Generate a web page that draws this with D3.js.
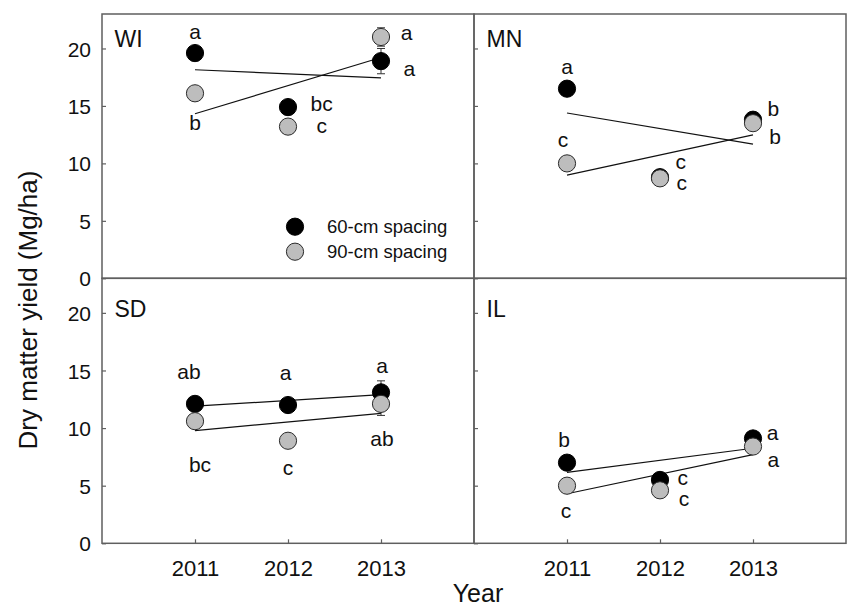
<!DOCTYPE html>
<html>
<head>
<meta charset="utf-8">
<script src="https://cdn.jsdelivr.net/npm/d3@7"></script>
<style>
  html, body { margin: 0; padding: 0; background: #fff; }
  svg { display: block; font-family: "Liberation Sans", Arial, Helvetica, sans-serif; }
</style>
</head>
<body>
<svg id="chart" width="847" height="608"></svg>
<script>
// ---------- data ----------
const years = [2011, 2012, 2013];
const yTicks = [0, 5, 10, 15, 20];
const xTicks = [2011, 2012, 2013];
const panelNames = ["WI", "MN", "SD", "IL"];
const seriesNames = ["60-cm spacing", "90-cm spacing"];

const wi60 = [19.6, 14.9, 18.9];
const wi90 = [16.1, 13.2, 21.0];
const mn60 = [16.5, 8.8, 13.8];
const mn90 = [10.0, 8.7, 13.5];
const sd60 = [12.1, 12.0, 13.1];
const sd90 = [10.6, 8.9, 12.1];
const il60 = [7.0, 5.5, 9.1];
const il90 = [5.0, 4.6, 8.4];

const wi60err = [0.4, 0.4, 1.1];
const wi90err = [0.4, 0.4, 0.8];
const mn60err = [0.4, 0.4, 0.4];
const mn90err = [0.4, 0.4, 0.4];
const sd60err = [0.4, 0.4, 1.0];
const sd90err = [0.4, 0.5, 1.0];
const il60err = [0.4, 0.4, 0.4];
const il90err = [0.4, 0.4, 0.4];

const wi60letters = ["a", "bc", "a"];
const wi90letters = ["b", "c", "a"];
const mn60letters = ["a", "c", "b"];
const mn90letters = ["c", "c", "b"];
const sd60letters = ["ab", "a", "a"];
const sd90letters = ["bc", "c", "ab"];
const il60letters = ["b", "c", "a"];
const il90letters = ["c", "c", "a"];

// ---------- layout (pixel offsets of letters from their points) ----------
const letterOffsets = {
  WI: [[[0, -14.3], [33.7, 4], [28.3, 14.4]], [[0, 36.9], [33.7, 6.6], [25.7, 2.8]]],
  MN: [[[0, -14.9], [20.7, -8.4], [20.3, -3.9]], [[-4, -16.2], [21.7, 11.5], [22, 21]]],
  SD: [[[-6, -24.9], [-2.3, -24.6], [1, -19.6]], [[5, 51.3], [0, 34.7], [1, 41.9]]],
  IL: [[[-3, -15.9], [22.7, 4.8], [19.7, 1.3]], [[-1, 32.1], [24, 15.2], [20.3, 20.7]]]
};

const panelData = {
  WI: { s: [wi60, wi90], e: [wi60err, wi90err], l: [wi60letters, wi90letters] },
  MN: { s: [mn60, mn90], e: [mn60err, mn90err], l: [mn60letters, mn90letters] },
  SD: { s: [sd60, sd90], e: [sd60err, sd90err], l: [sd60letters, sd90letters] },
  IL: { s: [il60, il90], e: [il60err, il90err], l: [il60letters, il90letters] }
};

const fills = ["#000000", "#bdbdbd"];
const strokes = ["#000000", "#2a2a2a"];

const svg = d3.select("#chart");
const frameColor = "#5f5f5f";

const cols = [[102, 474], [474, 846]];
const rows = [[14, 278.3], [278.3, 543.3]];

function linReg(xs, ys) {
  const mx = d3.mean(xs), my = d3.mean(ys);
  let num = 0, den = 0;
  xs.forEach((x, i) => { num += (x - mx) * (ys[i] - my); den += (x - mx) * (x - mx); });
  const b = num / den;
  return x => my + b * (x - mx);
}

panelNames.forEach((name, pi) => {
  const c = pi % 2, r = Math.floor(pi / 2);
  const x = d3.scaleLinear().domain([2010, 2014]).range(cols[c]);
  const y = d3.scaleLinear().domain([0, 23]).range([rows[r][1], rows[r][0]]);
  const g = svg.append("g");
  const pd = panelData[name];

  // frame
  g.append("rect")
    .attr("x", cols[c][0]).attr("y", rows[r][0])
    .attr("width", cols[c][1] - cols[c][0]).attr("height", rows[r][1] - rows[r][0])
    .attr("fill", "none").attr("stroke", frameColor).attr("stroke-width", 1.5);

  // y axis (inward ticks)
  const yAxis = d3.axisLeft(y).tickValues(yTicks).tickSize(-4).tickPadding(11)
    .tickFormat(c === 0 ? d3.format("d") : () => "");
  const ya = g.append("g").attr("transform", `translate(${cols[c][0]},0)`).call(yAxis);
  ya.select(".domain").remove();
  ya.selectAll(".tick line").attr("stroke", frameColor).attr("stroke-width", 1.2);
  ya.selectAll(".tick text").attr("font-size", 21).attr("fill", "#111").attr("dy", "0.36em")
    .attr("font-family", "Liberation Sans, Arial, sans-serif");

  // x axis on bottom panels
  if (r === 1) {
    const xAxis = d3.axisBottom(x).tickValues(xTicks).tickSize(-4).tickPadding(17)
      .tickFormat(d3.format("d"));
    const xa = g.append("g").attr("transform", `translate(0,${rows[r][1]})`).call(xAxis);
    xa.select(".domain").remove();
    xa.selectAll(".tick line").attr("stroke", frameColor).attr("stroke-width", 1.2);
    xa.selectAll(".tick text").attr("font-size", 22).attr("fill", "#111")
      .attr("font-family", "Liberation Sans, Arial, sans-serif");
  }

  // regression lines
  pd.s.forEach((vals) => {
    const f = linReg(years, vals);
    g.append("line")
      .attr("x1", x(years[0])).attr("y1", y(f(years[0])))
      .attr("x2", x(years[years.length - 1])).attr("y2", y(f(years[years.length - 1])))
      .attr("stroke", "#111").attr("stroke-width", 1.2);
  });

  // error bars
  pd.s.forEach((vals, si) => {
    vals.forEach((v, i) => {
      const e = pd.e[si][i];
      const xx = x(years[i]);
      g.append("line").attr("x1", xx).attr("x2", xx).attr("y1", y(v - e)).attr("y2", y(v + e))
        .attr("stroke", "#333").attr("stroke-width", 1);
      [v - e, v + e].forEach(t => {
        g.append("line").attr("x1", xx - 4).attr("x2", xx + 4).attr("y1", y(t)).attr("y2", y(t))
          .attr("stroke", "#333").attr("stroke-width", 1);
      });
    });
  });

  // points (60 first, 90 on top)
  pd.s.forEach((vals, si) => {
    g.selectAll(null).data(vals).enter().append("circle")
      .attr("cx", (d, i) => x(years[i])).attr("cy", d => y(d)).attr("r", 8.6)
      .attr("fill", fills[si]).attr("stroke", strokes[si]).attr("stroke-width", 1);
  });

  // significance letters
  pd.s.forEach((vals, si) => {
    vals.forEach((v, i) => {
      const off = letterOffsets[name][si][i];
      g.append("text")
        .attr("x", x(years[i]) + off[0]).attr("y", y(v) + off[1])
        .attr("text-anchor", "middle").attr("font-size", 21).attr("fill", "#111")
        .text(pd.l[si][i]);
    });
  });

  // panel label
  g.append("text")
    .attr("x", cols[c][0] + 12.5).attr("y", r === 0 ? 46.6 : 317)
    .attr("font-size", 23).attr("fill", "#111").text(name);

  // legend in WI panel
  if (name === "WI") {
    const ly0 = 226.7;
    seriesNames.forEach((s, si) => {
      const cy = ly0 + si * 25;
      g.append("circle").attr("cx", 295).attr("cy", cy).attr("r", 8.6)
        .attr("fill", fills[si]).attr("stroke", strokes[si]).attr("stroke-width", 1);
      g.append("text").attr("x", 327).attr("y", cy + 6.6)
        .attr("font-size", 18.5).attr("fill", "#111").text(s);
    });
  }
});

// axis titles
svg.append("text")
  .attr("transform", "translate(37,310) rotate(-90)")
  .attr("text-anchor", "middle").attr("font-size", 26).attr("fill", "#111")
  .text("Dry matter yield (Mg/ha)");
svg.append("text")
  .attr("x", 478).attr("y", 602)
  .attr("text-anchor", "middle").attr("font-size", 25).attr("fill", "#111")
  .text("Year");
</script>
</body>
</html>
